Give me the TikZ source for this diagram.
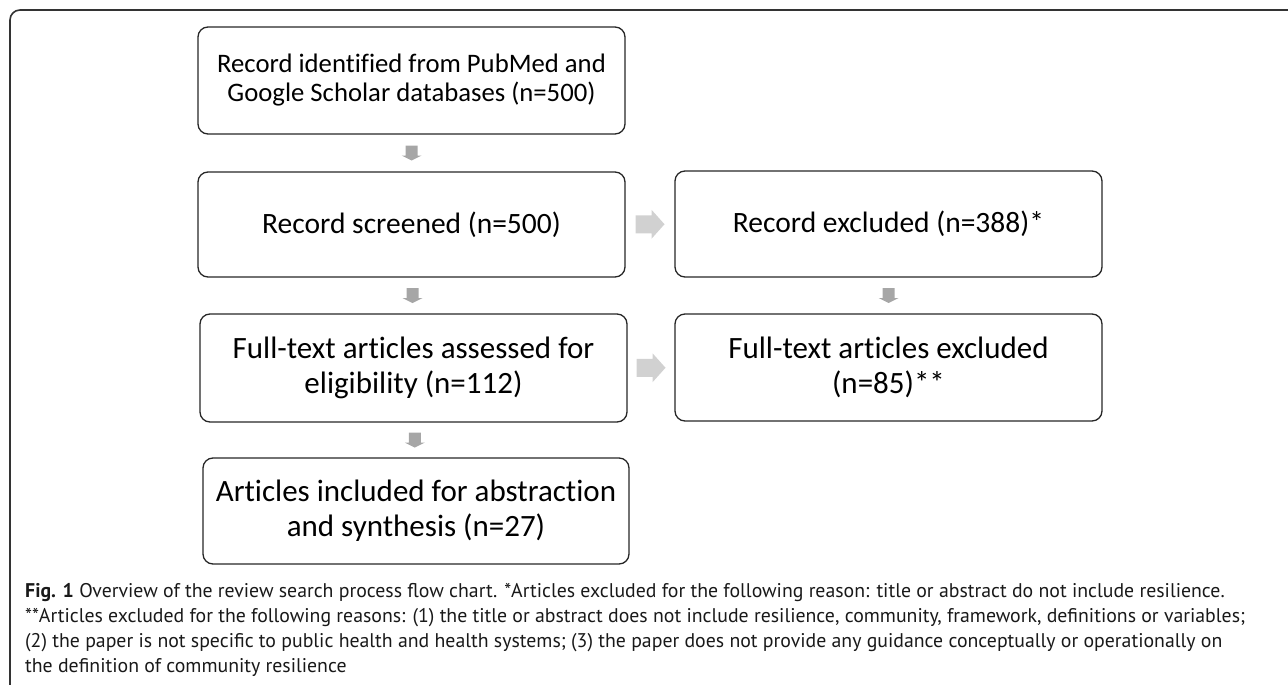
\documentclass[tikz,border=0pt]{standalone}
\usepackage{fontspec}
\setmainfont{Carlito}[Ligatures=NoCommon]
\newfontfamily\capfont{PT Sans}
\usetikzlibrary{calc}
\tikzset{
  box/.style={draw=black!85, line width=1.3pt, rounded corners=10pt, align=center, inner sep=0pt, text=black},
  fsA/.style={font=\fontsize{26.7}{29}\selectfont},
  fsB/.style={font=\fontsize{29.5}{33}\selectfont},
  fsC/.style={font=\fontsize{31}{35}\selectfont},
  captext/.style={anchor=base west, inner sep=0pt, text=black!90, font=\capfont\fontsize{19.8}{25}\selectfont},
  downblock/.pic={\fill[black!35] (-6,-7.5) -- (6,-7.5) -- (6,2.5) -- (10,2.5) -- (0,7.5) -- (-10,2.5) -- (-6,2.5) -- cycle;},
  rightblock/.pic={\fill[black!18] (-14.5,-9) -- (1.5,-9) -- (1.5,-14.5) -- (14.5,0) -- (1.5,14.5) -- (1.5,9) -- (-14.5,9) -- cycle;},
  frameline/.style={draw=black!80, line width=1.6pt, rounded corners=10pt}
}
\begin{document}
\begin{tikzpicture}[x=1pt,y=-1pt]
\useasboundingbox (0,0) rectangle (1288,685);
\draw[frameline] (10,690) -- (10,10) -- (1292,10);

\node[box, fsA, minimum width=427pt, minimum height=107pt] (b1) at (411.5,80.5) {Record identified from PubMed and\\Google Scholar databases (n=500)};
\node[box, fsB, minimum width=427pt, minimum height=105pt] (b2) at (411.5,224.5) {Record screened (n=500)};
\node[box, fsC, minimum width=427pt, minimum height=108pt] (b3) at (413.5,368) {Full-text articles assessed for\\eligibility (n=112)};
\node[box, fsC, minimum width=426pt, minimum height=106pt] (b4) at (416,511) {Articles included for abstraction\\and synthesis (n=27)};
\node[box, fsB, minimum width=427pt, minimum height=106pt] (b5) at (888.5,224) {Record excluded (n=388)*};
\node[box, fsC, minimum width=427pt, minimum height=107pt] (b6) at (888.5,367.5) {Full-text articles excluded\\(n=85)**};

\pic at ($(b1.south)!0.5!(b2.north)$) {downblock};
\pic at ($(b2.south)!0.5!(b3.north)$) {downblock};
\pic at ($(b3.south)!0.5!(b4.north)$) {downblock};
\pic at ($(b5.south)!0.5!(b6.north)$) {downblock};
\pic at ($(b2.east)!0.5!(b5.west)$) {rightblock};
\pic at ($(b3.east)!0.5!(b6.west)$) {rightblock};

\node[captext] (c1) at (25,597) {\textbf{Fig. 1} Overview of the review search process flow chart. *Articles excluded for the following reason: title or abstract do not include resilience.};
\node[captext] (c2) at (25,622) {**Articles excluded for the following reasons: (1) the title or abstract does not include resilience, community, framework, definitions or variables;};
\node[captext] (c3) at (25,647) {(2) the paper is not specific to public health and health systems; (3) the paper does not provide any guidance conceptually or operationally on};
\node[captext] (c4) at (25,672) {the definition of community resilience};
\end{tikzpicture}
\end{document}
